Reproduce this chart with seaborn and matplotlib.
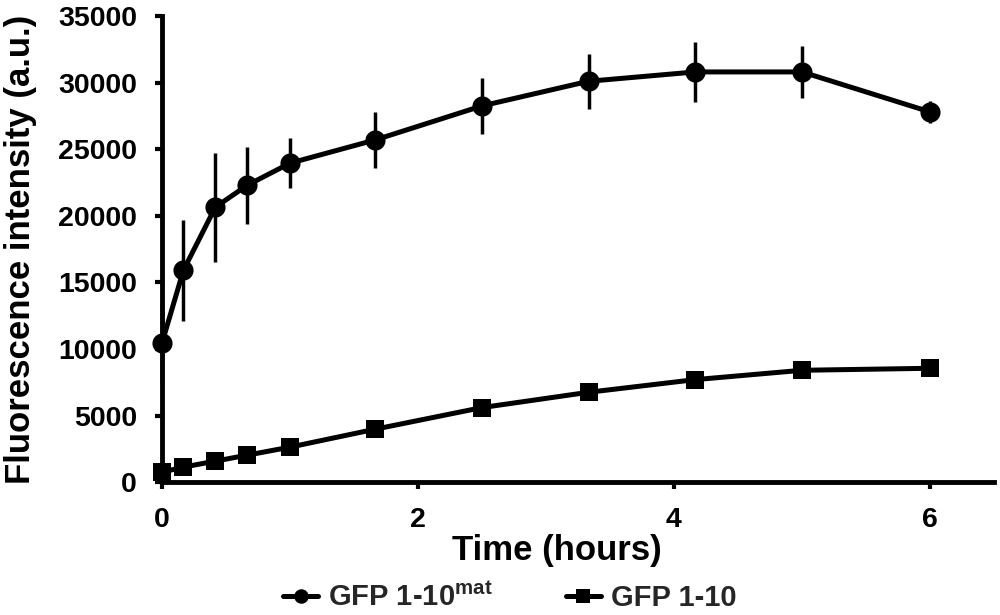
import matplotlib
matplotlib.use("Agg")
import matplotlib.pyplot as plt
import seaborn as sns
import pandas as pd

# Data
time_h = [0, 0.167, 0.417, 0.667, 1.0, 1.667, 2.5, 3.333, 4.167, 5.0, 6.0]
gfp_mat = [10450, 15900, 20650, 22300, 23950, 25700, 28250, 30100, 30800, 30800, 27800]
gfp_mat_err = [3000, 3800, 4100, 2900, 1900, 2100, 2100, 2050, 2250, 1950, 800]
gfp_110 = [750, 1130, 1580, 2030, 2630, 3980, 5600, 6750, 7700, 8400, 8550]
x_ticks = [0, 2, 4, 6]
y_ticks = [0, 5000, 10000, 15000, 20000, 25000, 30000, 35000]
label_mat = "GFP 1-10$^{mat}$"
label_110 = "GFP 1-10"

sns.set_theme(style="ticks")
plt.rcParams['font.family'] = ['Liberation Sans', 'DejaVu Sans']
plt.rcParams['font.weight'] = 'bold'
plt.rcParams['mathtext.fontset'] = 'custom'
plt.rcParams['mathtext.rm'] = 'Liberation Sans:bold'
plt.rcParams['mathtext.it'] = 'Liberation Sans:bold'
plt.rcParams['mathtext.default'] = 'rm'

fig = plt.figure(figsize=(10, 6.15), dpi=100)
ax = fig.add_axes([0.162, 0.216, 0.832, 0.758])

df1 = pd.DataFrame({"t": time_h, "v": gfp_mat})
df2 = pd.DataFrame({"t": time_h, "v": gfp_110})

ax.errorbar(time_h, gfp_mat, yerr=gfp_mat_err, fmt='none', ecolor='black',
            elinewidth=2.5, capsize=0, zorder=2, clip_on=False)
sns.lineplot(data=df1, x="t", y="v", ax=ax, color="black", linewidth=3.6,
             marker="o", markersize=14.5, markeredgewidth=0, label=label_mat,
             clip_on=False, zorder=3)
sns.lineplot(data=df2, x="t", y="v", ax=ax, color="black", linewidth=3.6,
             marker="s", markersize=13.5, markeredgewidth=0, label=label_110,
             clip_on=False, zorder=3)

ax.set_xlim(0, 6.5)
ax.set_ylim(0, 35000)
ax.set_xticks(x_ticks)
ax.set_yticks(y_ticks)
ax.tick_params(axis='both', labelsize=20.5, width=3, length=5, color='black',
               labelcolor='black', pad=13)
for lab in ax.get_xticklabels() + ax.get_yticklabels():
    lab.set_fontweight('bold')

sns.despine(ax=ax)
for s in ['left', 'bottom']:
    ax.spines[s].set_linewidth(3.5)
    ax.spines[s].set_color('black')

ax.set_xlabel("Time (hours)", fontsize=25, fontweight='bold', color='black',
              va='center')
ax.set_ylabel("Fluorescence intensity (a.u.)", fontsize=25, fontweight='bold',
              color='black', va='center')
ax.xaxis.set_label_coords(0.475, -0.146)
ax.yaxis.set_label_coords(-0.17, 0.5)

ax.get_legend().remove()
handles, labels = ax.get_legend_handles_labels()
fig.legend(handles, labels, loc='center', bbox_to_anchor=(0.51, 0.028), ncol=2,
           frameon=False, handlelength=1.2, columnspacing=2.5,
           handletextpad=0.35, markerscale=0.72,
           prop={'weight': 'bold', 'size': 21})

fig.savefig("out.png", dpi=100, facecolor='white')
